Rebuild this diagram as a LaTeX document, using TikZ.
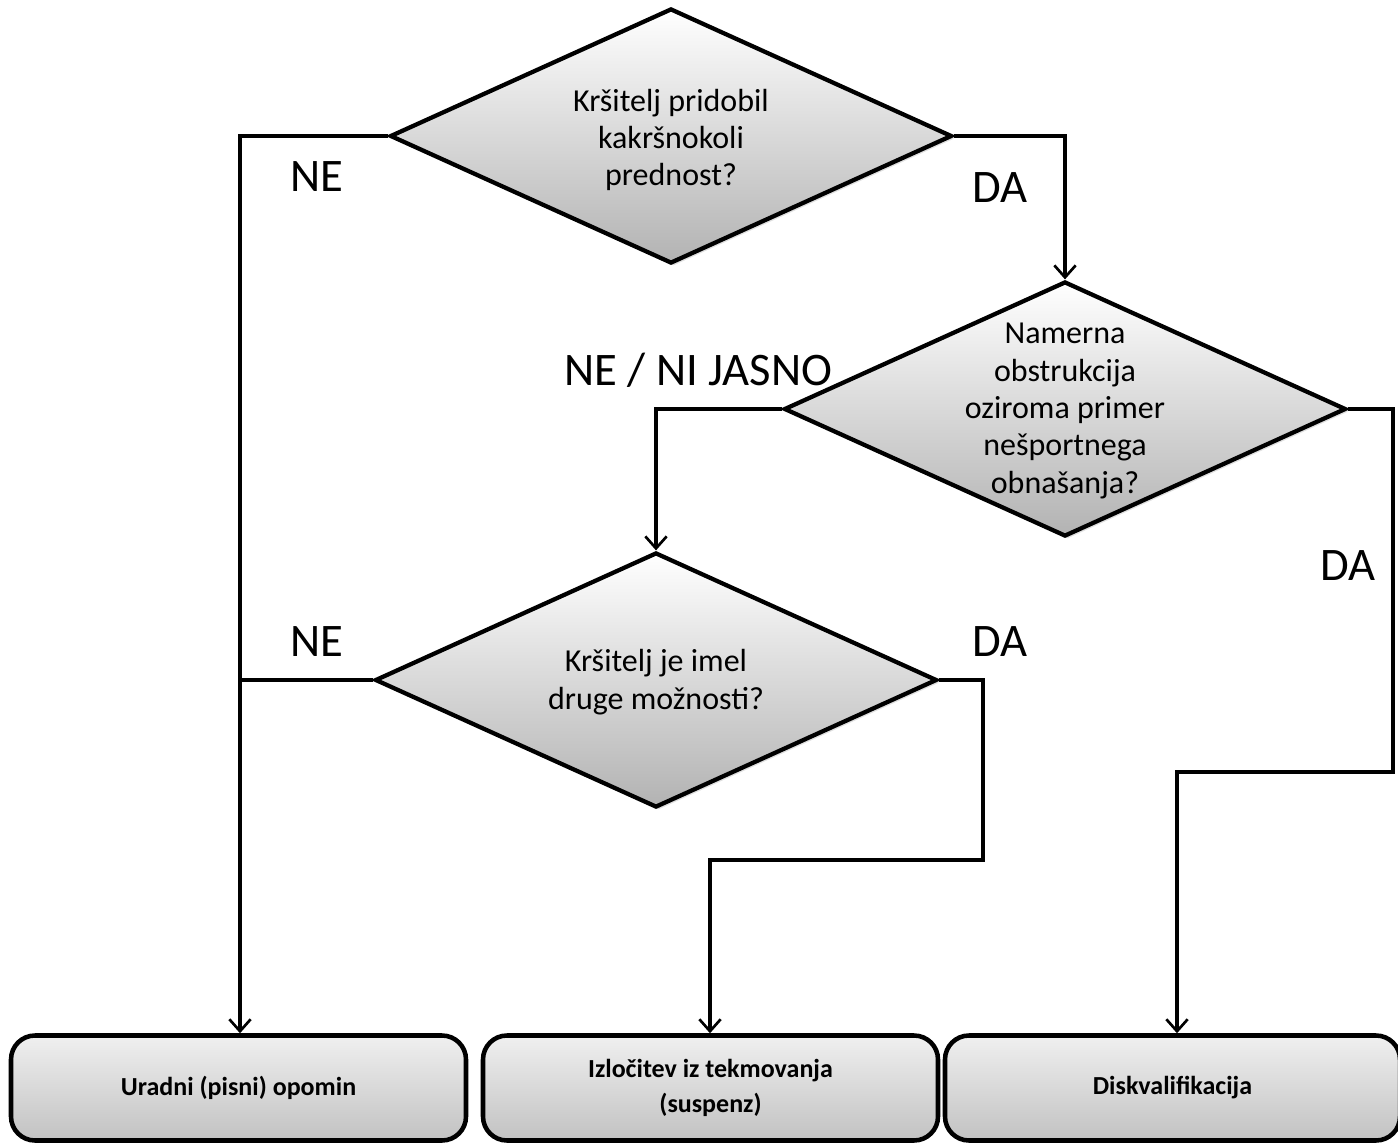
\documentclass[tikz,border=0pt]{standalone}
\usepackage{fontspec}
\setmainfont{Carlito}
\usetikzlibrary{shapes.geometric,arrows.meta,shadows}
\begin{document}
\begin{tikzpicture}[x=0.75pt,y=-0.75pt,
  dia/.style={diamond,draw=black,line width=3.2pt,top color=white,bottom color=black!30,
    minimum width=562*0.75pt,minimum height=255*0.75pt,inner sep=0pt,
    drop shadow={opacity=0.25,shadow xshift=2pt,shadow yshift=-2pt}},
  dtext/.style={align=center,font=\fontsize{24}{28}\selectfont},
  endbox/.style={rectangle,rounded corners=18pt,draw=black,line width=3.4pt,
    top color=black!6,bottom color=black!24,minimum width=455*0.75pt,minimum height=105*0.75pt,
    align=center,font=\bfseries\fontsize{19.5}{26}\selectfont},
  lbl/.style={font=\fontsize{35}{40}\selectfont,inner sep=0pt},
  conn/.style={line width=2.3pt,-{Straight Barb[length=9pt,width=16pt,line width=2pt]}},
  line/.style={line width=2.3pt}]
\useasboundingbox (0,0) rectangle (1398,1145);
% decisions
\node[dia] (d1) at (671,136) {};
\node[dtext] (t1) at (671,140) {Kršitelj pridobil\\kakršnokoli\\prednost?};
\node[dia] (d2) at (1065,409) {};
\node[dtext] (t2) at (1065,411) {Namerna\\obstrukcija\\oziroma primer\\nešportnega\\obnašanja?};
\node[dia] (d3) at (656,680) {};
\node[dtext] (t3) at (656,682) {Kršitelj je imel\\druge možnosti?};
% outcomes
\node[endbox] (b1) at (238.5,1088) {Uradni (pisni) opomin};
\node[endbox] (b2) at (710.5,1088) {Izločitev iz tekmovanja\\(suspenz)};
\node[endbox] (b3) at (1172.5,1088) {Diskvalifikacija};
% bend points
\coordinate (c1) at (240,136);
\coordinate (c2) at (1065,136);
\coordinate (c3) at (656,409);
\coordinate (c4) at (1393,409);
\coordinate (c5) at (1393,772);
\coordinate (c6) at (1177,772);
\coordinate (c7) at (240,680);
\coordinate (c8) at (983,680);
\coordinate (c9) at (983,860);
\coordinate (c10) at (710,860);
% connectors
\draw[conn] (d1.west) -- (c1) -- (c1 |- b1.north);
\draw[conn] (d1.east) -- (c2) -- (d2.north);
\draw[conn] (d2.west) -- (c3) -- (d3.north);
\draw[conn] (d2.east) -- (c4) -- (c5) -- (c6) -- (c6 |- b3.north);
\draw[line] (d3.west) -- (c7);
\draw[conn] (d3.east) -- (c8) -- (c9) -- (c10) -- (c10 |- b2.north);
% labels
\node[lbl] (l1) at (317,177) {NE};
\node[lbl] (l2) at (1000,188) {DA};
\node[lbl] (l3) at (698,370) {NE / NI JASNO};
\node[lbl] (l4) at (1348,566) {DA};
\node[lbl] (l5) at (317,642) {NE};
\node[lbl] (l6) at (1000,642) {DA};
\end{tikzpicture}
\end{document}
